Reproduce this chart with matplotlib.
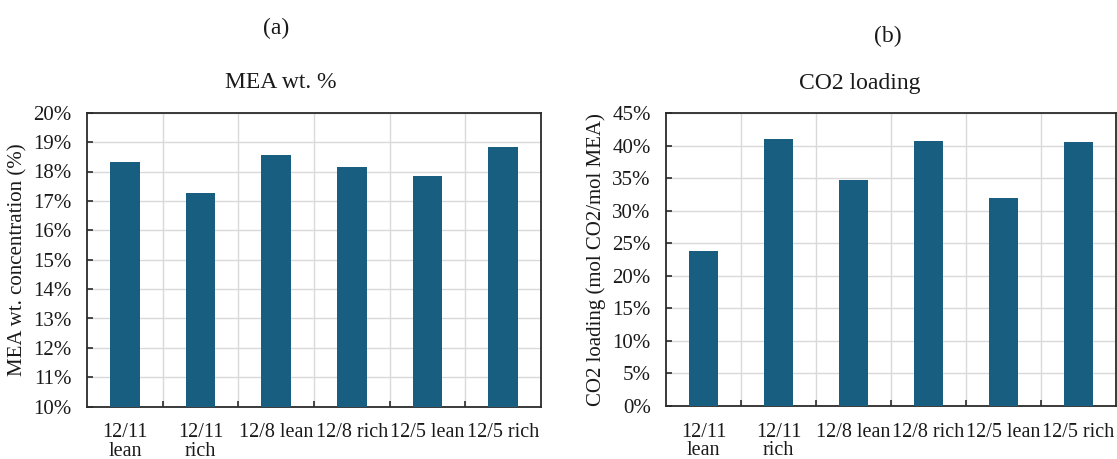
import matplotlib
matplotlib.use("Agg")
import matplotlib.pyplot as plt
from matplotlib.ticker import FuncFormatter, FixedLocator
import numpy as np

categories = ["12/11\nlean", "12/11\nrich", "12/8 lean", "12/8 rich", "12/5 lean", "12/5 rich"]
mea_wt = [0.1833, 0.1728, 0.1857, 0.1817, 0.1785, 0.1884]
co2_loading = [0.238, 0.411, 0.347, 0.407, 0.320, 0.406]

BAR_COLOR = "#175e81"
GRID_COLOR = "#d9d9d9"
SPINE_COLOR = "#2b2b2b"
TEXT_COLOR = "#1a1a1a"
FONT = ["Liberation Serif", "DejaVu Serif"]

plt.rcParams["font.family"] = FONT
plt.rcParams["text.color"] = TEXT_COLOR

W, H = 1117, 459
fig = plt.figure(figsize=(W / 100, H / 100), dpi=100)


def px_axes(x0, y0, x1, y1):
    return fig.add_axes([x0 / W, 1 - y1 / H, (x1 - x0) / W, (y1 - y0) / H])


def style_axes(ax, values, ymin, ymax, ystep, ylabel, label_x):
    n = len(categories)
    x = np.arange(n)
    ax.bar(x, values, width=0.39, color=BAR_COLOR, zorder=3)
    ax.set_xlim(-0.5, n - 0.5)
    ax.set_ylim(ymin, ymax)

    # boundaries between categories carry ticks and grid; labels sit at centres
    ax.xaxis.set_major_locator(FixedLocator(np.arange(0.5, n - 0.5, 1.0)))
    ax.xaxis.set_major_formatter(FuncFormatter(lambda v, p: ""))
    ax.xaxis.set_minor_locator(FixedLocator(x))
    ax.set_xticklabels(categories, minor=True, linespacing=0.95)
    ax.tick_params(axis="x", which="major", direction="in", length=4,
                   width=1.2, color=SPINE_COLOR)
    ax.tick_params(axis="x", which="minor", length=0, pad=12,
                   labelsize=14.5, labelcolor=TEXT_COLOR)

    ax.set_yticks(np.arange(ymin, ymax + ystep / 2, ystep))
    ax.yaxis.set_major_formatter(FuncFormatter(lambda v, p: f"{v * 100:.0f}%"))
    ax.tick_params(axis="y", direction="in", length=4, width=1.2,
                   color=SPINE_COLOR, pad=11, labelsize=15,
                   labelcolor=TEXT_COLOR)

    ax.grid(True, which="major", color=GRID_COLOR, linewidth=1.0, zorder=0)
    ax.set_axisbelow(True)
    for s in ax.spines.values():
        s.set_color(SPINE_COLOR)
        s.set_linewidth(1.3)

    ax.set_ylabel(ylabel, fontsize=15, color=TEXT_COLOR)
    ax.yaxis.set_label_coords(label_x, 0.5)


ax1 = px_axes(87, 112.7, 541, 406.7)
style_axes(ax1, mea_wt, 0.10, 0.20, 0.01, "MEA wt. concentration (%)", -0.130)

ax2 = px_axes(666, 113.3, 1116, 406)
style_axes(ax2, co2_loading, 0.0, 0.45, 0.05, "CO2 loading (mol CO2/mol MEA)", -0.133)

fig.text(276 / W, 1 - 28 / H, "(a)", ha="center", va="center", fontsize=17)
fig.text(281 / W, 1 - 83 / H, "MEA wt. %", ha="center", va="center", fontsize=17)
fig.text(888 / W, 1 - 36 / H, "(b)", ha="center", va="center", fontsize=17)
fig.text(860 / W, 1 - 83 / H, "CO2 loading", ha="center", va="center", fontsize=17)

fig.savefig("out.png", dpi=100, facecolor="white")
